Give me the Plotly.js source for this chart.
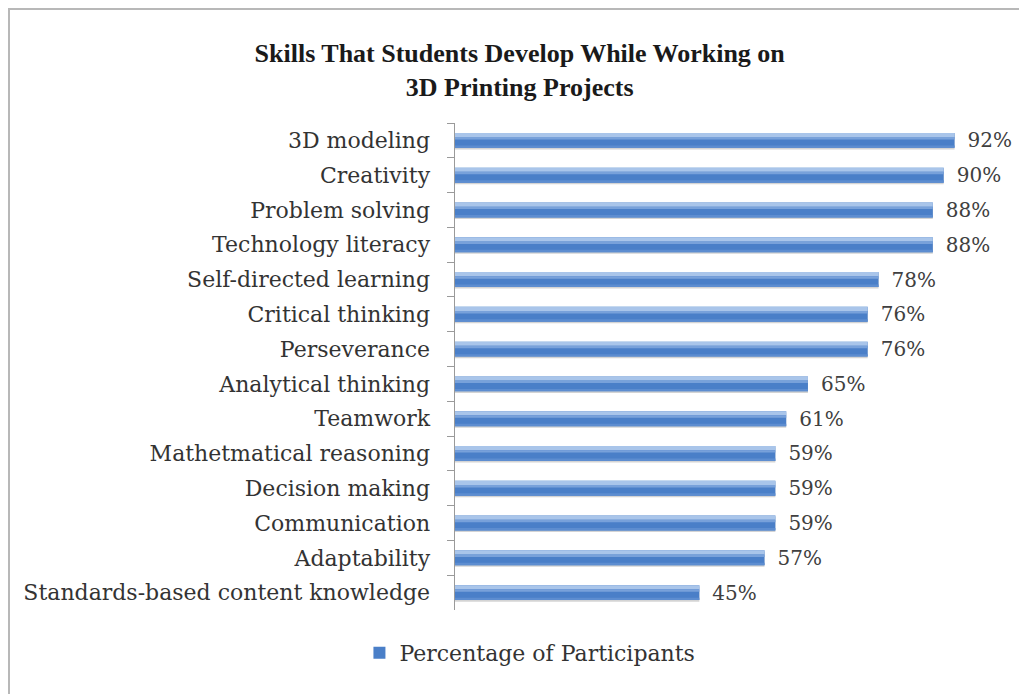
<!DOCTYPE html>
<html>
<head>
<meta charset="utf-8">
<script src="https://cdn.plot.ly/plotly-3.0.1.min.js"></script>
<style>
  html, body { margin: 0; padding: 0; background: #fff; }
  #wrap { position: relative; width: 1019px; height: 694px; overflow: hidden; }
  #frame { position: absolute; left: 8px; top: 8px; width: 1100px; height: 800px;
           border-top: 2px solid #b8b8b8; border-left: 2px solid #b8b8b8; pointer-events: none; }
  #chart { position: absolute; left: 0; top: 0; width: 1019px; height: 694px; }
</style>
</head>
<body>
<div id="wrap">
  <div id="chart"></div>
  <div id="frame"></div>
</div>
<script>
const categories = [
  "3D modeling",
  "Creativity",
  "Problem solving",
  "Technology literacy",
  "Self-directed learning",
  "Critical thinking",
  "Perseverance",
  "Analytical thinking",
  "Teamwork",
  "Mathetmatical reasoning",
  "Decision making",
  "Communication",
  "Adaptability",
  "Standards-based content knowledge"
];
const values = [92, 90, 88, 88, 78, 76, 76, 65, 61, 59, 59, 59, 57, 45];
const seriesName = "Percentage of Participants";
const titleLines = ["Skills That Students Develop While Working on", "3D Printing Projects"];

const serif = "DejaVu Serif, serif";

// shadow below bar
const shadow = {
  type: "bar", orientation: "h", y: categories, x: values,
  width: 0.43, offset: -0.17,
  marker: { color: "#d4d4d4", line: { width: 0 } },
  showlegend: false, hoverinfo: "skip"
};
// main bar
const main = {
  type: "bar",
  orientation: "h",
  name: seriesName,
  y: categories,
  x: values,
  width: 0.43, offset: -0.215,
  text: values.map(v => "\u2002" + v + "%"),
  textposition: "outside",
  constraintext: "none",
  cliponaxis: false,
  textfont: { family: serif, size: 20, color: "#404040" },
  marker: { color: "#4a7fc8", line: { width: 0 } },
  hoverinfo: "x+y"
};
// lighter top highlight (cylinder-like shading)
const highlight = {
  type: "bar", orientation: "h", y: categories, x: values,
  width: 0.12, offset: -0.215,
  marker: { color: "#a9c5ea", line: { width: 0 } },
  showlegend: false, hoverinfo: "skip"
};
const mid = {
  type: "bar", orientation: "h", y: categories, x: values,
  width: 0.07, offset: -0.095,
  marker: { color: "#78a1da", line: { width: 0 } },
  showlegend: false, hoverinfo: "skip"
};
const lower = {
  type: "bar", orientation: "h", y: categories, x: values,
  width: 0.07, offset: 0.145,
  marker: { color: "#5d8dd0", line: { width: 0 } },
  showlegend: false, hoverinfo: "skip"
};

const layout = {
  width: 1019,
  height: 694,
  barmode: "overlay",
  paper_bgcolor: "rgba(0,0,0,0)",
  plot_bgcolor: "#fff",
  margin: { l: 455, r: 21, t: 123, b: 84 },
  title: {
    text: "<b>" + titleLines.join("<br>") + "</b>",
    font: { family: "Liberation Serif, serif", size: 26, color: "#1a1a1a" },
    x: 0.51, xanchor: "center",
    y: 0.91, yanchor: "middle"
  },
  xaxis: {
    range: [0, 100],
    visible: false,
    fixedrange: true
  },
  yaxis: {
    autorange: "reversed",
    type: "category",
    showline: true,
    linecolor: "#9a9a9a",
    linewidth: 1.5,
    ticks: "outside",
    tickson: "boundaries",
    ticklen: 7,
    tickcolor: "#9a9a9a",
    ticklabelstandoff: 19,
    tickfont: { family: serif, size: 22, color: "#333" },
    showgrid: false,
    fixedrange: true
  },
  showlegend: true,
  legend: {
    orientation: "h",
    x: 0.138, xanchor: "center",
    y: -0.045, yanchor: "top",
    font: { family: serif, size: 22, color: "#333" },
    itemwidth: 30
  }
};

Plotly.newPlot("chart", [shadow, main, highlight, mid, lower], layout, { displayModeBar: false, staticPlot: true });
</script>
</body>
</html>
